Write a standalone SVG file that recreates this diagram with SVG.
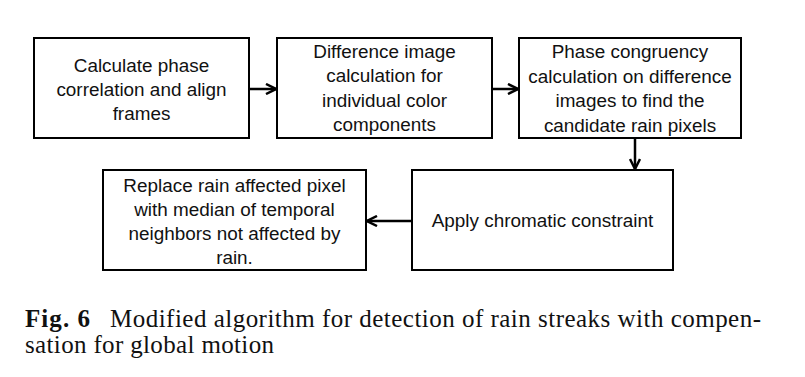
<svg xmlns="http://www.w3.org/2000/svg" width="805" height="377" viewBox="0 0 805 377">
<defs>
<style>
.box{fill:#fff;stroke:#000;stroke-width:2}
.t{font-family:"Liberation Sans",Arial,sans-serif;font-size:18.9px;fill:#111;text-anchor:middle}
.cap{font-family:"Liberation Serif","Times New Roman",serif;font-size:25px;fill:#111}
.conn{stroke:#000;stroke-width:2.5;fill:none}
</style>
<marker id="ah" viewBox="0 0 10 10" refX="9" refY="5" markerWidth="5" markerHeight="5" orient="auto" markerUnits="strokeWidth">
<path d="M1,1 L9,5 L1,9" fill="none" stroke="#000" stroke-width="2"/>
</marker>
</defs>
<rect width="805" height="377" fill="#fff"/>
<g id="connectors">
<line class="conn" x1="250" y1="89" x2="276" y2="89" marker-end="url(#ah)"/>
<line class="conn" x1="492" y1="89" x2="518" y2="89" marker-end="url(#ah)"/>
<line class="conn" x1="635" y1="138" x2="635" y2="169" marker-end="url(#ah)"/>
<line class="conn" x1="412" y1="221" x2="367" y2="221" marker-end="url(#ah)"/>
</g>
<g id="n1">
<rect class="box" x="34" y="38" width="215" height="100"/>
<text class="t" x="141.5" y="72">Calculate phase</text>
<text class="t" x="141.5" y="96">correlation and align</text>
<text class="t" x="141.5" y="120">frames</text>
</g>
<g id="n2">
<rect class="box" x="277" y="38" width="215" height="100"/>
<text class="t" x="384.5" y="58">Difference image</text>
<text class="t" x="384.5" y="82">calculation for</text>
<text class="t" x="384.5" y="107">individual color</text>
<text class="t" x="384.5" y="131">components</text>
</g>
<g id="n3">
<rect class="box" x="519" y="38" width="222" height="100"/>
<text class="t" x="630" y="58">Phase congruency</text>
<text class="t" x="630" y="83">calculation on difference</text>
<text class="t" x="630" y="107">images to find the</text>
<text class="t" x="630" y="132">candidate rain pixels</text>
</g>
<g id="n4">
<rect class="box" x="412" y="170" width="261" height="100"/>
<text class="t" x="542.5" y="227">Apply chromatic constraint</text>
</g>
<g id="n5">
<rect class="box" x="103" y="170" width="263" height="100"/>
<text class="t" x="234.5" y="192">Replace rain affected pixel</text>
<text class="t" x="234.5" y="216">with median of temporal</text>
<text class="t" x="234.5" y="240">neighbors not affected by</text>
<text class="t" x="234.5" y="264">rain.</text>
</g>
<g id="caption">
<text class="cap" x="25" y="327" font-weight="bold" textLength="65">Fig. 6</text>
<text class="cap" x="110" y="327" textLength="651">Modified algorithm for detection of rain streaks with compen-</text>
<text class="cap" x="25" y="353" textLength="249">sation for global motion</text>
</g>
</svg>
